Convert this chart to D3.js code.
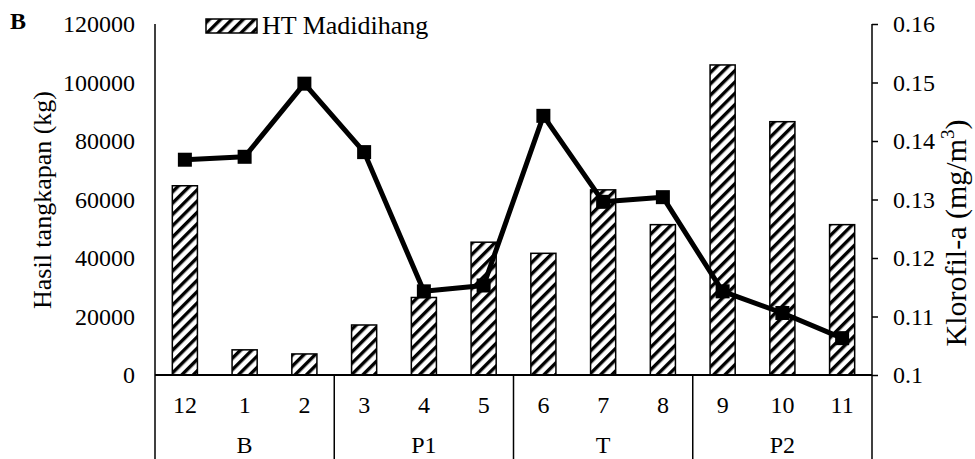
<!DOCTYPE html>
<html>
<head>
<meta charset="utf-8">
<script src="https://cdn.jsdelivr.net/npm/d3@7"></script>
<style>
  html, body { margin: 0; padding: 0; background: #fff; }
  svg, svg text { font-family: "Liberation Serif", "Times New Roman", serif; }
</style>
</head>
<body>
<svg id="chart" width="975" height="459"></svg>
<script>
// Monthly catch (kg) and chlorophyll-a (mg/m3), grouped by season
const months = ["12", "1", "2", "3", "4", "5", "6", "7", "8", "9", "10", "11"];
const seasons = ["B", "P1", "T", "P2"];
const seasonOfMonth = ["B", "B", "B", "P1", "P1", "P1", "T", "T", "T", "P2", "P2", "P2"];
const catchKg = [64700, 8600, 7200, 17100, 26500, 45400, 41600, 63300, 51400, 106000, 86600, 51400];
const chlorophyll = [0.1368, 0.1373, 0.1498, 0.1381, 0.1143, 0.1153, 0.1443, 0.1296, 0.1304, 0.1143, 0.1106, 0.1063];
const leftTicks = [0, 20000, 40000, 60000, 80000, 100000, 120000];
const rightTicks = [0.1, 0.11, 0.12, 0.13, 0.14, 0.15, 0.16];

(function () {
  const FONT = "Liberation Serif";
  const svg = d3.select("#chart").attr("font-family", FONT);
  const mLeft = 155, mRight = 872, mTop = 24, mBottom = 375, H = 459;

  const x = d3.scaleBand().domain(months).range([mLeft, mRight]).paddingInner(0.58).paddingOuter(0.29);
  const xc = m => x(m) + x.bandwidth() / 2;
  const yL = d3.scaleLinear().domain([0, 120000]).range([mBottom, mTop]);
  const yR = d3.scaleLinear().domain([0.1, 0.16]).range([mBottom, mTop]);

  // Diagonal hatch fill for the bars
  const defs = svg.append("defs");
  const pat = defs.append("pattern")
    .attr("id", "hatch").attr("patternUnits", "userSpaceOnUse")
    .attr("width", 8).attr("height", 8)
    .attr("patternTransform", "rotate(45)");
  pat.append("rect").attr("width", 8).attr("height", 8).attr("fill", "#fff");
  pat.append("rect").attr("x", 0).attr("y", 0).attr("width", 3.4).attr("height", 8).attr("fill", "#000");

  // Bars
  svg.append("g").selectAll("rect").data(months).join("rect")
    .attr("x", m => x(m))
    .attr("y", (m, i) => yL(catchKg[i]))
    .attr("width", x.bandwidth())
    .attr("height", (m, i) => yL(0) - yL(catchKg[i]))
    .attr("fill", "url(#hatch)")
    .attr("stroke", "#000").attr("stroke-width", 1.5);

  // Left axis (labels only, no tick marks)
  const axL = svg.append("g").attr("transform", `translate(${mLeft},0)`)
    .call(d3.axisLeft(yL).tickValues(leftTicks).tickSize(0).tickPadding(20).tickFormat(d3.format("d")));
  axL.attr("font-family", FONT).attr("font-size", 24);
  axL.select(".domain").remove();
  axL.selectAll("text").attr("fill", "#000");
  svg.append("line").attr("x1", mLeft).attr("x2", mLeft).attr("y1", mTop).attr("y2", H)
    .attr("stroke", "#000").attr("stroke-width", 1.5);

  // Right axis
  const axR = svg.append("g").attr("transform", `translate(${mRight},0)`)
    .call(d3.axisRight(yR).tickValues(rightTicks).tickSize(6).tickPadding(15).tickFormat(d => String(+d.toFixed(2))));
  axR.attr("font-family", FONT).attr("font-size", 24);
  axR.select(".domain").remove();
  axR.selectAll("line").attr("stroke", "#000").attr("stroke-width", 1.5);
  axR.selectAll("text").attr("fill", "#000");
  svg.append("line").attr("x1", mRight).attr("x2", mRight).attr("y1", mTop).attr("y2", H)
    .attr("stroke", "#000").attr("stroke-width", 1.5);

  // Baseline
  svg.append("line").attr("x1", mLeft).attr("x2", mRight).attr("y1", mBottom).attr("y2", mBottom)
    .attr("stroke", "#000").attr("stroke-width", 2);

  // Month labels
  svg.append("g").attr("font-family", FONT).attr("font-size", 24)
    .selectAll("text").data(months).join("text")
    .attr("x", m => xc(m)).attr("y", 413)
    .attr("text-anchor", "middle").text(m => m);

  // Season groups: separators and labels
  const step = x.step();
  const bandStart = m => xc(m) - step / 2;
  const sepX = seasons.slice(1).map(s => bandStart(months[seasonOfMonth.indexOf(s)]));
  svg.append("g").selectAll("line").data(sepX).join("line")
    .attr("x1", d => d).attr("x2", d => d).attr("y1", mBottom).attr("y2", H)
    .attr("stroke", "#000").attr("stroke-width", 1.5);
  const groups = seasons.map(s => ({ s, ms: months.filter((m, i) => seasonOfMonth[i] === s) }));
  svg.append("g").attr("font-family", FONT).attr("font-size", 24)
    .selectAll("text").data(groups).join("text")
    .attr("x", g => d3.mean(g.ms, xc)).attr("y", 453)
    .attr("text-anchor", "middle").text(g => g.s);

  // Chlorophyll line with square markers
  const line = d3.line().x((d, i) => xc(months[i])).y(d => yR(d));
  svg.append("path").datum(chlorophyll).attr("d", line)
    .attr("fill", "none").attr("stroke", "#000").attr("stroke-width", 5).attr("stroke-linejoin", "round");
  const ms = 14;
  svg.append("g").selectAll("rect").data(chlorophyll).join("rect")
    .attr("x", (d, i) => xc(months[i]) - ms / 2).attr("y", d => yR(d) - ms / 2)
    .attr("width", ms).attr("height", ms).attr("fill", "#000");

  // Axis titles
  svg.append("text").attr("transform", `translate(51,200) rotate(-90)`)
    .attr("font-family", FONT).attr("font-size", 26)
    .attr("text-anchor", "middle").text("Hasil tangkapan (kg)");
  const rt = svg.append("text").attr("transform", `translate(966,233) rotate(-90)`)
    .attr("font-family", FONT).attr("font-size", 30)
    .attr("text-anchor", "middle");
  rt.append("tspan").text("Klorofil-a (mg/m");
  rt.append("tspan").attr("font-size", 19).attr("dy", -12).text("3");
  rt.append("tspan").attr("dy", 12).text(")");

  // Legend
  svg.append("rect").attr("x", 206).attr("y", 19).attr("width", 51).attr("height", 14)
    .attr("fill", "url(#hatch)").attr("stroke", "#000").attr("stroke-width", 1.5);
  svg.append("text").attr("x", 262).attr("y", 34)
    .attr("font-family", FONT).attr("font-size", 26).text("HT Madidihang");

  // Panel letter
  svg.append("text").attr("x", 10).attr("y", 29)
    .attr("font-family", FONT).attr("font-size", 24).attr("font-weight", "bold").text("B");
})();
</script>
</body>
</html>
